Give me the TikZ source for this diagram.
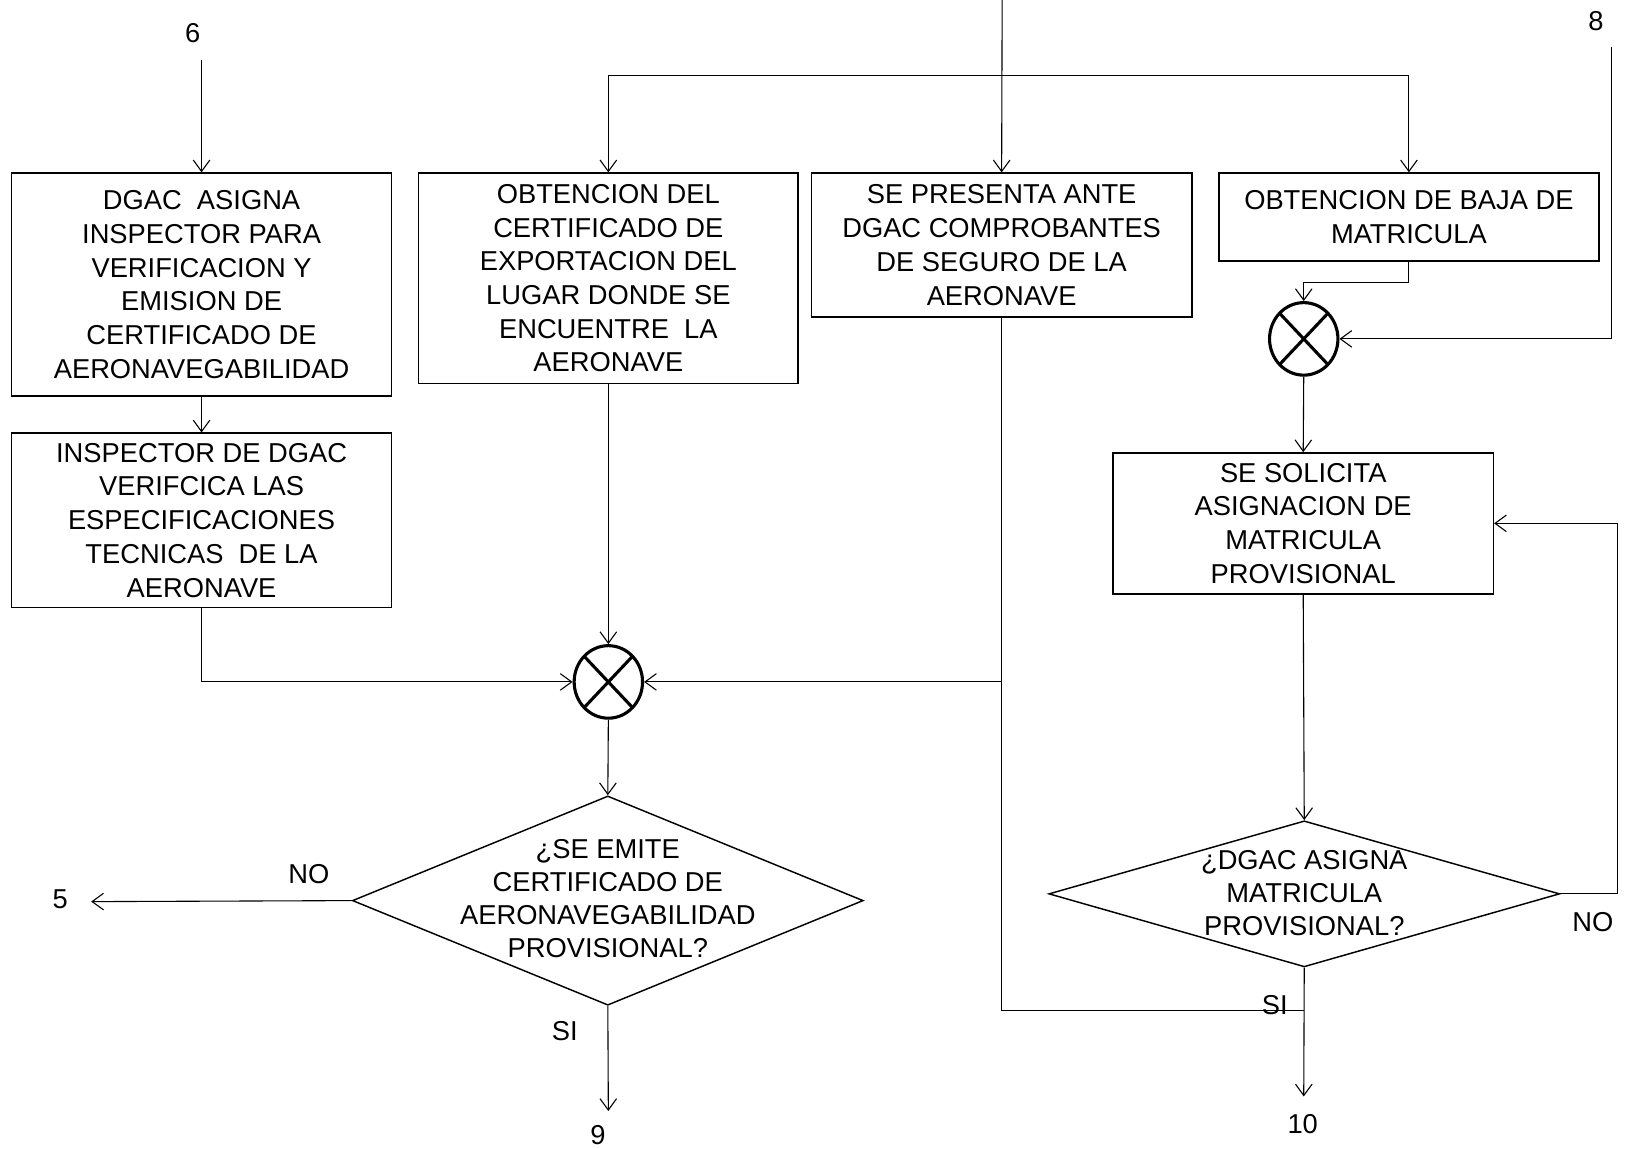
\documentclass[tikz,border=0pt]{standalone}
\usepackage{fontspec}
\setmainfont{Liberation Sans}
\usetikzlibrary{arrows.meta,shapes.geometric}

\tikzset{
  flow/.style={draw, line width=0.6pt},
  arr/.style={flow, -{Straight Barb[length=2.2mm,width=3.2mm,line width=0.6pt]}},
  bigbox/.style={draw, line width=0.8pt, rectangle, inner sep=0pt, align=center,
    font=\fontsize{15}{18.5}\selectfont},
  smallbox/.style={draw, line width=0.8pt, rectangle, inner sep=0pt, align=center,
    font=\fontsize{15}{18.5}\selectfont},
  decision/.style={draw, line width=0.8pt, diamond, inner sep=0pt},
  decisiontext/.style={align=center, inner sep=0pt, font=\fontsize{15}{18.2}\selectfont},
  merge/.style={draw, line width=1.7pt, ellipse, inner sep=0pt,
    minimum width=1.32cm, minimum height=1.40cm,
    path picture={
      \draw[line width=1.7pt] (path picture bounding box.north west) -- (path picture bounding box.south east);
      \draw[line width=1.7pt] (path picture bounding box.north east) -- (path picture bounding box.south west);
    }},
  tag/.style={inner sep=1pt, font=\fontsize{15}{18}\selectfont}
}

\begin{document}
\begin{tikzpicture}[x=0.02cm, y=-0.02cm]
  \useasboundingbox (0,0) rectangle (1568,1108);

  % process boxes
  \node[bigbox, minimum width=7.34cm, minimum height=4.30cm] (b1) at (194.5,274.5)
    {DGAC~ ASIGNA\\INSPECTOR PARA\\VERIFICACION Y\\EMISION DE\\CERTIFICADO DE\\AERONAVEGABILIDAD};
  \node[smallbox, minimum width=7.34cm, minimum height=3.36cm] (b2) at (194.5,502)
    {INSPECTOR DE DGAC\\VERIFCICA LAS\\ESPECIFICACIONES\\TECNICAS~ DE LA\\AERONAVE};
  \node[bigbox, minimum width=7.32cm, minimum height=4.06cm] (b3) at (587,268.5)
    {OBTENCION DEL\\CERTIFICADO DE\\EXPORTACION DEL\\LUGAR DONDE SE\\ENCUENTRE~ LA\\AERONAVE};
  \node[bigbox, minimum width=7.34cm, minimum height=2.78cm] (b4) at (966.5,236.5)
    {SE PRESENTA ANTE\\DGAC COMPROBANTES\\DE SEGURO DE LA\\AERONAVE};
  \node[bigbox, minimum width=7.34cm, minimum height=1.70cm] (b5) at (1359.5,209.5)
    {OBTENCION DE BAJA DE\\MATRICULA};
  \node[smallbox, minimum width=7.34cm, minimum height=2.72cm] (b6) at (1257.5,505)
    {SE SOLICITA\\ASIGNACION DE\\MATRICULA\\PROVISIONAL};

  % merge points
  \node[merge] (m1) at (587,658) {};
  \node[merge] (m2) at (1258,327) {};

  % decisions
  \node[decision, minimum width=9.86cm, minimum height=4.04cm] (d1) at (586.5,869) {};
  \node[decisiontext] (d1t) at (586.5,867)
    {¿SE EMITE\\CERTIFICADO DE\\AERONAVEGABILIDAD\\PROVISIONAL?};
  \node[decision, minimum width=9.86cm, minimum height=2.82cm] (d2) at (1258.5,862.5) {};
  \node[decisiontext] (d2t) at (1258.5,861.5)
    {¿DGAC ASIGNA\\MATRICULA\\PROVISIONAL?};

  % off-page references and branch labels
  \node[tag] (n6) at (186,32) {6};
  \node[tag] (n8) at (1540,20) {8};
  \node[tag] (n5) at (58,868) {5};
  \node[tag] (n9) at (577,1095) {9};
  \node[tag] (n10) at (1257,1085) {10};
  \node[tag] (no1) at (298,843) {NO};
  \node[tag] (si1) at (545,995) {SI};
  \node[tag] (no2) at (1537,890) {NO};
  \node[tag] (si2) at (1230,970) {SI};

  \coordinate (in6) at (194.5,58);
  \coordinate (in8) at (1555,45);
  \coordinate (intop) at (967,0);
  \coordinate (split) at (967,73);
  \coordinate (out5) at (88,870);
  \coordinate (out9) at (587,1072);
  \coordinate (out10) at (1258,1058);
  \coordinate (sijoin) at (1258,975);

  % connectors
  \draw[arr] (in6) -- (b1.north);
  \draw[arr] (b1.south) -- (b2.north);
  \draw[arr] (intop) -- (b4.north);
  \draw[arr] (split) -| (b3.north);
  \draw[arr] (split) -| (b5.north);
  \draw[arr] (b5.south) -- ++(0,20) -| (m2.north);
  \draw[arr] (in8) |- (m2.east);
  \draw[arr] (m2.south) -- (b6.north);
  \draw[arr] (b6.south) -- (d2.north);
  \draw[arr] (d2.east) -- ++(55,0) |- (b6.east);
  \draw[arr] (d2.south) -- (out10);
  \draw[flow] (b4.south) |- (sijoin);
  \draw[arr] (b4.south |- m1.east) -- (m1.east);
  \draw[arr] (b3.south) -- (m1.north);
  \draw[arr] (b2.south) |- (m1.west);
  \draw[arr] (m1.south) -- (d1.north);
  \draw[arr] (d1.west) -- (out5);
  \draw[arr] (d1.south) -- (out9);
\end{tikzpicture}
\end{document}
